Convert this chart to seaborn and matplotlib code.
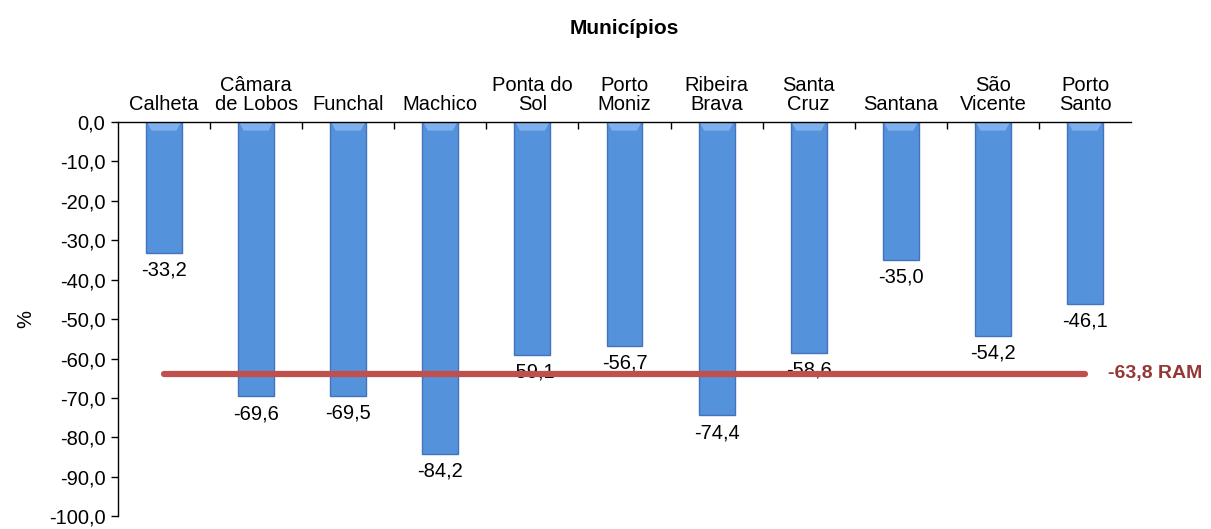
import matplotlib
matplotlib.use("Agg")
import matplotlib.pyplot as plt
import seaborn as sns
import pandas as pd
import numpy as np

municipios = ["Calheta", "Câmara\nde Lobos", "Funchal", "Machico", "Ponta do\nSol",
              "Porto\nMoniz", "Ribeira\nBrava", "Santa\nCruz", "Santana", "São\nVicente",
              "Porto\nSanto"]
valores = [-33.2, -69.6, -69.5, -84.2, -59.1, -56.7, -74.4, -58.6, -35.0, -54.2, -46.1]
ram_valor = -63.8
y_ticks = [0, -10, -20, -30, -40, -50, -60, -70, -80, -90, -100]

sns.set_theme(style="white")
plt.rcParams['font.family'] = ['Liberation Sans', 'DejaVu Sans']
plt.rcParams['text.color'] = 'black'
plt.rcParams['xtick.color'] = 'black'
plt.rcParams['ytick.color'] = 'black'
plt.rcParams['axes.labelcolor'] = 'black'

FS = 14.5
df = pd.DataFrame({"m": municipios, "v": valores})

fig = plt.figure(figsize=(12.11, 5.29), dpi=100)
ax = fig.add_axes([0.0974, 0.024, 0.8366, 0.7454])

sns.barplot(data=df, x="m", y="v", color="#5592dc", width=0.39, ax=ax,
            edgecolor="#4373bb", linewidth=1.0, saturation=1)

for p in ax.patches:
    x0 = p.get_x(); w = p.get_width()
    ax.add_patch(plt.Polygon([(x0 + 0.01, 0), (x0 + w - 0.01, 0), (x0 + w - 0.06, -2.2), (x0 + 0.06, -2.2)],
                             closed=True, facecolor="#7fb0ee", edgecolor="none", zorder=p.get_zorder() + 0.1))

for i, v in enumerate(valores):
    ax.text(i, v - 2.0, f"{v:.1f}".replace(".", ","), ha="center", va="top", fontsize=FS, color="black")

ax.plot([0, len(valores) - 1], [ram_valor, ram_valor], color="#c0504d", lw=4.5,
        solid_capstyle="round", zorder=5)
ax.text(len(valores) - 1 + 0.25, ram_valor, f"{ram_valor:.1f} RAM".replace(".", ","),
        ha="left", va="center", fontsize=FS - 0.5, fontweight="bold", color="#953735")

ax.set_xlim(-0.5, len(valores) - 0.5)
ax.set_ylim(-100, 0)
ax.set_yticks(y_ticks)
ax.set_yticklabels([f"{t:.1f}".replace(".", ",") for t in y_ticks], fontsize=FS)
ax.set_ylabel("%", fontsize=FS, labelpad=10)
ax.set_xlabel("")

ax.xaxis.tick_top()
ax.set_xticks(range(len(municipios)))
ax.set_xticklabels(municipios, fontsize=FS, linespacing=1.0)
ax.tick_params(axis="x", length=0, pad=6)
ax.set_xticks(np.arange(0.5, len(valores) - 0.5, 1), minor=True)
ax.tick_params(axis="x", which="minor", direction="in", length=5, color="black", width=1, top=True)
ax.tick_params(axis="y", direction="out", length=5, color="black", width=1, left=True, pad=4)

for s in ["right", "bottom"]:
    ax.spines[s].set_visible(False)
for s in ["top", "left"]:
    ax.spines[s].set_color("black")
    ax.spines[s].set_linewidth(1)

fig.text(0.5 * (0.0974 + 0.934), 1 - 28 / 529, "Municípios", ha="center", va="center",
         fontsize=15, fontweight="bold")

fig.savefig("out.png", dpi=100)
